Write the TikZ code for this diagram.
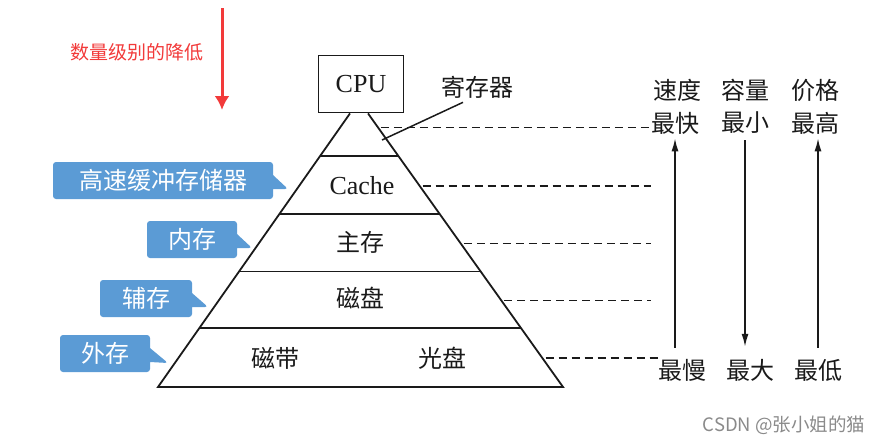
\documentclass[tikz,border=0pt]{standalone}
\usepackage{fontspec}
\setmainfont{Liberation Serif}
\newfontfamily\cjk{Noto Sans CJK SC}
\usetikzlibrary{arrows.meta,calc,shapes.callouts}
\definecolor{mhInk}{HTML}{1A1A1A}
\definecolor{mhRed}{HTML}{F23A3A}
\definecolor{mhBlue}{HTML}{5B9BD5}
\definecolor{mhGray}{HTML}{8A8A8A}
\tikzset{
  mh edge/.style={draw=mhInk, line width=1.8pt},
  mh leader/.style={draw=mhInk, line width=1.5pt},
  mh guide/.style={draw=mhInk, line width=1.6pt, dash pattern=on 8pt off 5pt, shorten <=3pt},
  mh arrow/.style={draw=mhInk, line width=1.6pt, -{Latex[length=13pt,width=7pt]}},
  mh red arrow/.style={draw=mhRed, line width=3pt, -{Latex[length=14pt,width=15pt]}},
  mh text/.style={font=\cjk\fontsize{24}{26}\selectfont, text=mhInk, inner sep=0pt},
  mh latin/.style={font=\rmfamily\fontsize{26}{28}\selectfont, text=mhInk, inner sep=0pt},
  mh tag/.style={rectangle callout, rounded corners=3pt, fill=mhBlue, text=white, font=\cjk\fontsize{24}{26}\selectfont, minimum height=37pt, inner sep=0pt, callout pointer width=14pt},
}

\begin{document}
\begin{tikzpicture}[x=1pt,y=-1pt]
\useasboundingbox (0,0) rectangle (885,445);
% red note
\node[font=\cjk\fontsize{19}{21}\selectfont, text=mhRed, inner sep=0pt] (drop) at (137,52) {数量级别的降低};
\coordinate (redtop) at (222,8); \coordinate (redtip) at (222,110);
\draw[mh red arrow] (redtop) -- (redtip);
% pyramid
\node[mh edge, mh latin, minimum width=85pt, minimum height=57pt] (cpu) at (361,84) {CPU};
\coordinate (tl) at ($(cpu.south)+(-11,0)$); \coordinate (tr) at ($(cpu.south)+(7,0)$);
\coordinate (bl) at (158,387); \coordinate (br) at (563,387);
\draw[mh edge] (tl) -- (bl) -- (br) -- (tr);
\foreach \t[count=\i] in {0.156,0.367,0.578,0.785}{\coordinate (l\i) at ($(tl)!\t!(bl)$); \coordinate (r\i) at ($(tr)!\t!(br)$); \draw[mh edge] (l\i) -- (r\i);}
\node[mh text] (reg) at (477,87) {寄存器};
\coordinate (regpt) at (382,140);
\draw[mh leader] ([xshift=-14pt,yshift=-4pt]reg.south) -- (regpt);
\node[mh latin] (cache) at (362,186) {Cache};
\node[mh text] (main) at (360,242) {主存};
\node[mh text] (disk) at (360,298) {磁盘};
\node[mh text] (tape) at (275,358) {磁带};
\node[mh text] (optic) at (442,358) {光盘};
% right columns
\node[mh text] (speed) at (677,90) {速度}; \node[mh text] (cap) at (745,90) {容量}; \node[mh text] (price) at (815,90) {价格};
\node[mh text] (fast) at (675,123) {最快}; \node[mh text] (least) at (745,123) {最小}; \node[mh text] (high) at (815,123) {最高};
\node[mh text] (slow) at (682,370) {最慢}; \node[mh text] (most) at (750,370) {最大}; \node[mh text] (low) at (818,370) {最低};
\coordinate (gend) at (651,0);
\foreach \t/\e[count=\i] in {0.051/fast.west,0.265/gend,0.476/gend,0.684/gend,0.895/slow.west}{\coordinate (d\i) at ($(tr)!\t!(br)$); \draw[mh guide] (d\i) -- (d\i -| \e);}
\draw[mh arrow, shorten <=11pt, shorten >=4pt] (slow.north -| fast) -- (fast.south);
\draw[mh arrow, shorten <=6pt, shorten >=12pt] (least.south) -- (least.south |- most.north);
\draw[mh arrow, shorten <=11pt, shorten >=4pt] (low.north) -- (low.north |- high.south);
% blue tags
\foreach \x/\y/\w/\px/\py/\s[count=\i] in {163/180.5/220/288/189/高速缓冲存储器,192/239.5/90/252/248/内存,146/298.5/92/208/307/辅存,105/353.5/90/168/363/外存}{\coordinate (p\i) at (\px,\py); \node[mh tag, minimum width=\w pt, callout absolute pointer={(p\i)}] (t\i) at (\x,\y) {\s};}
\node[font=\cjk\fontsize{18.5}{20}\selectfont, text=mhGray, inner sep=0pt] (mark) at (784,425) {CSDN @张小姐的猫};
\end{tikzpicture}
\end{document}
